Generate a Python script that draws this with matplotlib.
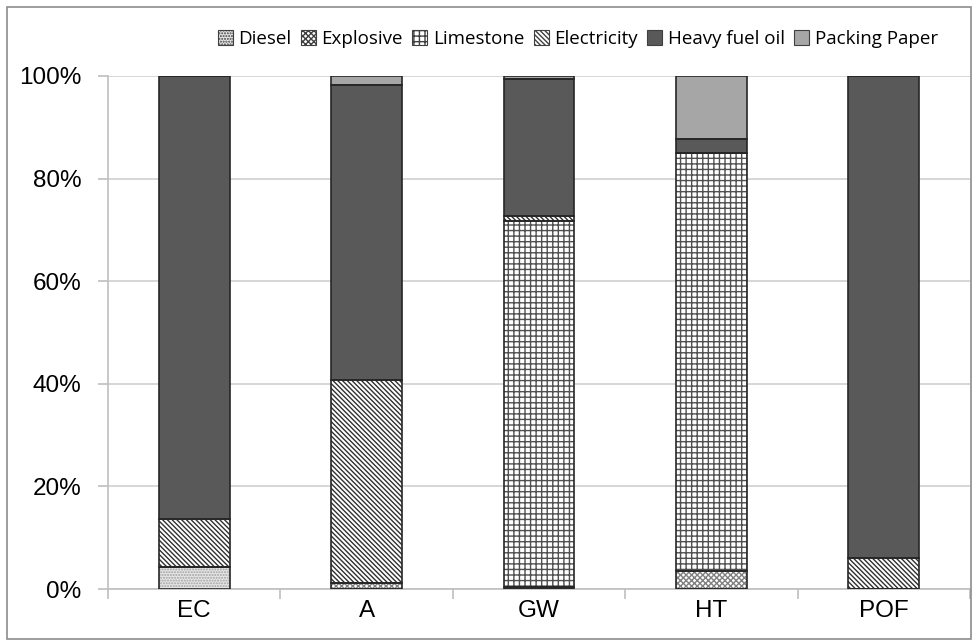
import numpy as np
import matplotlib as mpl
import matplotlib.pyplot as plt
from matplotlib.patches import Rectangle

mpl.rcParams['hatch.linewidth'] = 1.0

sites = ['EC', 'A', 'GW', 'HT', 'POF']
components = ['Diesel', 'Explosive', 'Limestone', 'Electricity',
              'Heavy fuel oil', 'Packing Paper']

# shares in percent, one list per component (EC, A, GW, HT, POF)
diesel = [4.2, 0.0, 0.0, 0.0, 0.0]
explosive = [0.0, 1.2, 0.3, 3.5, 0.0]
limestone = [0.0, 0.0, 71.4, 81.5, 0.0]
electricity = [9.5, 39.5, 1.0, 0.0, 6.0]
heavy_fuel_oil = [86.3, 57.6, 26.7, 2.8, 94.0]
packing_paper = [0.0, 1.7, 0.6, 12.2, 0.0]

series = [diesel, explosive, limestone, electricity, heavy_fuel_oil, packing_paper]
faces = ['#e6e6e6', '#ffffff', '#ffffff', '#ffffff', '#595959', '#a6a6a6']
hatches = ['......', 'xxxxxx', '+++', '\\' * 7, None, None]
hatch_cols = ['#a0a0a0', '#808080', '#505050', '#303030', '#303030', '#303030']

fig = plt.figure(figsize=(9.73, 6.42), dpi=100)
ax = fig.add_axes([108/973, 53/642, 862/973, 513/642])

x = np.arange(len(sites))
bottom = np.zeros(len(sites))
for name, vals, fc, h, hc in zip(components, series, faces, hatches, hatch_cols):
    vals = np.array(vals)
    ax.bar(x, vals, 0.41, bottom=bottom, color=fc, edgecolor=hc, hatch=h,
           linewidth=0, label=name, zorder=3)
    ax.bar(x, vals, 0.41, bottom=bottom, fill=False, edgecolor='#262626',
           linewidth=1.2, zorder=4)
    bottom += vals

ax.set_xlim(-0.5, 4.5)
ax.set_ylim(0, 100)
ax.set_yticks(range(0, 101, 20))
ax.set_yticklabels([f'{v}%' for v in range(0, 101, 20)])
ax.set_xticks(x)
ax.set_xticklabels(sites)
ax.set_xticks(np.arange(-0.5, 4.6, 1), minor=True)
ax.tick_params(axis='x', which='major', length=0, pad=8)
ax.tick_params(axis='x', which='minor', length=7, color='#bfbfbf', width=1.2)
ax.tick_params(axis='y', length=7, color='#bfbfbf', width=1.2, pad=12)
for lab in ax.get_xticklabels() + ax.get_yticklabels():
    lab.set_fontfamily('Liberation Sans')
    lab.set_fontsize(17.5)

ax.grid(axis='y', color='#d0d0d0', linewidth=1.2, zorder=0)
for s in ['top', 'right']:
    ax.spines[s].set_visible(False)
ax.spines['left'].set_color('#bfbfbf')
ax.spines['bottom'].set_color('#bfbfbf')
ax.spines['left'].set_linewidth(1.2)
ax.spines['bottom'].set_linewidth(1.2)

leg = ax.legend(loc='lower center', bbox_to_anchor=(0.545, 1.0), ncol=6,
                frameon=False, prop={'family': 'Open Sans', 'size': 13.5},
                handlelength=0.8, handleheight=0.8, handletextpad=0.3,
                columnspacing=0.5, borderaxespad=1.1)
for p in leg.get_patches():
    p.set_edgecolor('#404040')
    p.set_linewidth(0.8)

# outer chart border
fig.patches.append(Rectangle((7/973, 3/642), 1 - 7/973 - 2/973, 1 - 10/642,
                             transform=fig.transFigure, fill=False,
                             edgecolor='#8c8c8c', linewidth=1.2))

fig.savefig('out.png', dpi=100)
